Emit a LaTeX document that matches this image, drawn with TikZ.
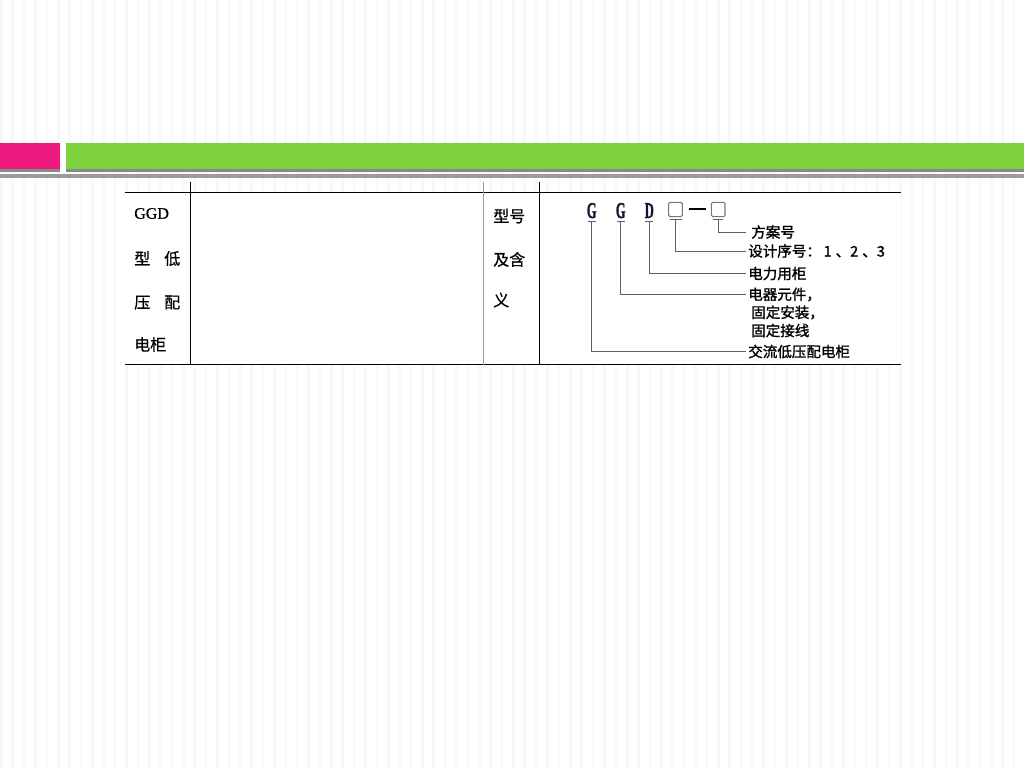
\documentclass[tikz,border=0pt]{standalone}
\usepackage{fontspec}
\setmainfont{Liberation Serif}
\newfontfamily\cjk{Noto Sans CJK SC}[FakeBold=0.6]
\newfontfamily\cjkb{Noto Sans CJK SC}[FakeBold=1.4]
\newfontfamily\codefont{Liberation Serif Bold}[FakeBold=1.6]
\newfontfamily\latincellfont{Liberation Serif}[FakeBold=0.6]
\usetikzlibrary{calc}
\definecolor{pinkbar}{RGB}{236,24,125}
\definecolor{greenbar}{RGB}{126,210,60}
\definecolor{stripe}{RGB}{248,248,248}
\definecolor{barshadow}{RGB}{136,136,136}
\definecolor{rulegray}{RGB}{155,155,155}
\definecolor{leadgray}{RGB}{95,95,95}
\definecolor{lettercol}{RGB}{20,20,50}
\definecolor{boxgray}{RGB}{120,120,120}
\begin{document}
\begin{tikzpicture}[x=0.75pt,y=-0.75pt,
  cell/.style={font=\cjk\fontsize{12}{12}\selectfont, inner sep=0, anchor=west},
  latincell/.style={font=\latincellfont\fontsize{12}{12}\selectfont, inner sep=0, anchor=west},
  codeletter/.style={font=\codefont\fontsize{17}{17}\selectfont, text=lettercol, inner sep=0, anchor=base},
  codebox/.style={draw=boxgray, line width=0.8pt, rounded corners=1pt, minimum width=10.2pt, minimum height=10.8pt, inner sep=0},
  lab/.style={font=\cjkb\fontsize{10.9}{10.9}\selectfont, inner sep=0, anchor=west},
  lead/.style={draw=leadgray, line width=0.75pt},
  tabrule/.style={draw=black, line width=1.1pt},
  tabvert/.style={draw=black, line width=0.9pt}]
\useasboundingbox (0,0) rectangle (1024,768);
\fill[white] (0,0) rectangle (1024,768);
\foreach \i in {0,...,90} \fill[stripe] ({\i*11.38},0) rectangle ++(2.6,768);
% header bars
\fill[pinkbar] (0,143) rectangle (60,169);
\fill[barshadow] (0,169) rectangle (60,172);
\fill[greenbar] (66,143) rectangle (1024,169);
\fill[barshadow] (66,169) rectangle (1024,172);
\fill[rulegray] (0,173.5) rectangle (1024,177.5);
% table
\fill[white] (125,192.5) rectangle (901,364.5);
\draw[tabrule] (125,192.5) -- (901,192.5);
\draw[tabrule] (125,364.5) -- (901,364.5);
\draw[tabvert] (190.7,182) -- (190.7,365);
\draw[draw=rulegray, line width=0.9pt] (483.3,182) -- (483.3,365);
\draw[tabvert] (539.3,182) -- (539.3,365);
% left column
\node[latincell] (c1) at (134,213.5) {GGD};
\node[cell] (c2) at (134,258.5) {型\hspace{10.5pt}低};
\node[cell] (c3) at (134,302.5) {压\hspace{10.5pt}配};
\node[cell] (c4) at (134,344.5) {电柜};
% middle column
\node[cell] (m1) at (493,216) {型号};
\node[cell] (m2) at (493,259.5) {及含};
\node[cell] (m3) at (493,300) {义};
% code letters
\node[codeletter] (g1) at (591.7,218) {\scalebox{0.55}[1]{G}};
\node[codeletter] (g2) at (620.7,218) {\scalebox{0.55}[1]{G}};
\node[codeletter] (d) at (649.3,218) {\scalebox{0.55}[1]{D}};
\node[codebox] (b1) at (675.5,209.5) {};
\node[codebox] (b2) at (718.2,209.5) {};
\draw[black, line width=1.5pt] ($(b1.east)+(6,-1)$) -- ($(b2.west)+(-5,-1)$);
% labels
\node[lab] (l1) at (751,232) {方案号};
\node[lab] (l2) at (748,251) {设计序号：\hspace{2pt}1\hspace{3pt}、2\hspace{3pt}、3};
\node[lab] (l3) at (748,273.5) {电力用柜};
\node[lab] (l4) at (748,294.5) {电器元件，};
\node[lab] (l4b) at (751,312.5) {固定安装，};
\node[lab] (l4c) at (751,330.5) {固定接线};
\node[lab] (l5) at (748,351.5) {交流低压配电柜};
% leaders
\foreach \n in {g1,g2,d}{
  \draw[lead] ($(\n.base)+(-4,3)$) -- ($(\n.base)+(4,3)$);
}
\draw[lead] ($(g1.base)+(0,3)$) |- ($(l5.west)+(-2,0)$);
\draw[lead] ($(g2.base)+(0,3)$) |- ($(l4.west)+(-2,0)$);
\draw[lead] ($(d.base)+(0,3)$) |- ($(l3.west)+(-2,0)$);
\draw[lead] ($(b1.south)+(-6,2.5)$) -- ($(b1.south)+(6,2.5)$);
\draw[lead] ($(b1.south)+(0,2.5)$) |- ($(l2.west)+(-2,0)$);
\draw[lead] ($(b2.south)+(-5,2.5)$) -- ($(b2.south)+(5,2.5)$);
\draw[lead] ($(b2.south)+(0,2.5)$) |- ($(l1.west)+(-5,0)$);
\end{tikzpicture}
\end{document}
